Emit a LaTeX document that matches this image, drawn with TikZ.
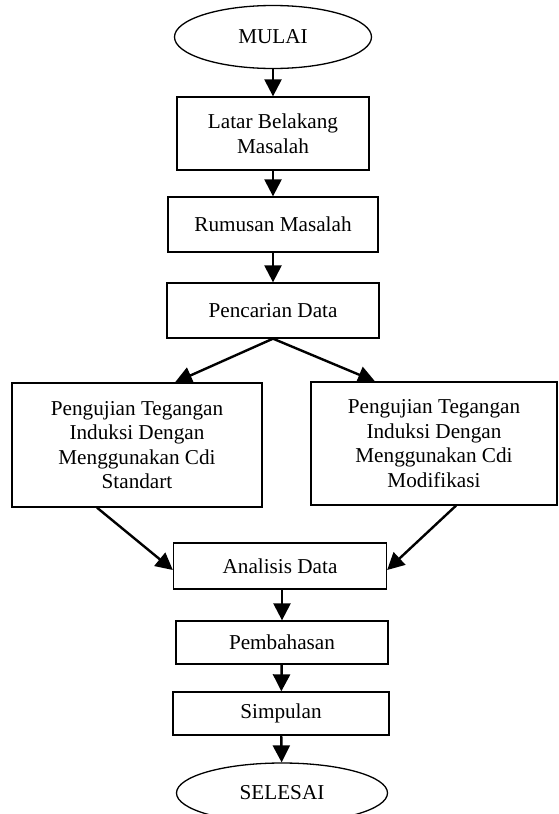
\documentclass[tikz,border=0pt]{standalone}
\usepackage{fontspec}
\setmainfont{Liberation Serif}
\usetikzlibrary{shapes.geometric,arrows.meta}

\begin{document}
\begin{tikzpicture}[x=1pt,y=-1pt,
  every node/.style={font=\fontsize{21.2}{24.6}\selectfont,inner sep=0pt,align=center},
  box/.style={draw,line width=1.3pt,rectangle},
  term/.style={draw,line width=1.3pt,ellipse},
  arr/.style={line width=2.4pt,-{Triangle[width=17pt,length=17pt]}}]
\useasboundingbox (0,0) rectangle (558,814);

\node[term,minimum width=197pt,minimum height=63pt] (mulai) at (273,37) {MULAI};
\node[box,minimum width=192pt,minimum height=73pt] (latar) at (273,133.5) {Latar Belakang\\Masalah};
\node[box,minimum width=210pt,minimum height=55pt] (rumusan) at (273,224.5) {Rumusan Masalah};
\node[box,minimum width=212pt,minimum height=55pt] (cari) at (273,310.5) {Pencarian Data};
\node[box,minimum width=250pt,minimum height=124pt] (uji1) at (137,445) {Pengujian Tegangan\\Induksi Dengan\\Menggunakan Cdi\\Standart};
\node[box,minimum width=246pt,minimum height=123pt] (uji2) at (434,443.5) {Pengujian Tegangan\\Induksi Dengan\\Menggunakan Cdi\\Modifikasi};
\node[box,minimum width=213pt,minimum height=46pt] (analisis) at (280,566) {Analisis Data};
\node[box,minimum width=212pt,minimum height=43pt] (bahas) at (282,642.5) {Pembahasan};
\node[box,minimum width=216pt,minimum height=43pt] (simpulan) at (281,713.5) {Simpulan};
\node[term,minimum width=211pt,minimum height=60pt] (selesai) at (282,793) {SELESAI};

\path[draw,arr] (mulai) -- (latar);
\path[draw,arr] (latar) -- (rumusan);
\path[draw,arr] (rumusan) -- (cari);
\path[draw,arr] (cari.south) -- ([xshift=38pt]uji1.north);
\path[draw,arr] (cari.south) -- ([xshift=-59pt]uji2.north);
\path[draw,arr] ([xshift=-40pt]uji1.south) -- ([yshift=-4pt]analisis.west);
\path[draw,arr] ([xshift=22pt]uji2.south) -- ([yshift=-4pt]analisis.east);
\path[draw,arr] (analisis.south -| bahas.north) -- (bahas.north);
\path[draw,arr] (bahas) -- (simpulan);
\path[draw,arr] (simpulan) -- (selesai);

\end{tikzpicture}
\end{document}
